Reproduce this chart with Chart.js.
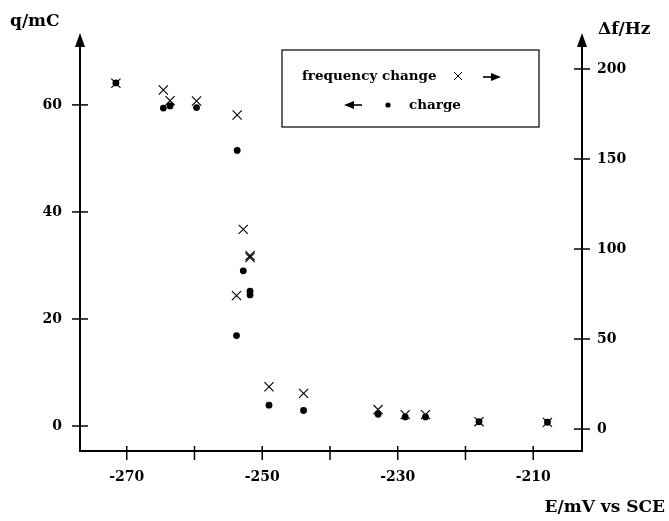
<!DOCTYPE html>
<html>
<head>
<meta charset="utf-8">
<script src="https://cdn.jsdelivr.net/npm/chart.js@4"></script>
<style>
  html, body { margin: 0; padding: 0; background: #fff; }
  canvas { display: block; }
</style>
</head>
<body>
<canvas id="chart" width="669" height="521"></canvas>
<script>
// potential E / mV vs SCE for each measurement
const potential = [-271.6, -264.6, -263.6, -259.7, -253.7, -252.8, -251.8, -251.8, -253.8, -249.0, -243.9, -232.9, -228.9, -225.9, -218.0, -207.9];
// charge q / mC (left axis)
const charge = [64.1, 59.4, 59.8, 59.5, 51.5, 29.0, 25.2, 24.5, 16.9, 3.9, 2.9, 2.2, 1.7, 1.7, 0.8, 0.7];
// frequency change Δf / Hz (right axis)
const freqChange = [192.1, 188.3, 182.4, 182.2, 174.4, 110.9, 96.3, 95.3, 74.1, 23.5, 19.8, 10.8, 8.0, 8.0, 4.1, 3.7];

const xTicks = [-270, -260, -250, -240, -230, -220, -210];
const qTicks = [0, 20, 40, 60];
const fTicks = [0, 50, 100, 150, 200];

const FONT = '"DejaVu Serif", "Liberation Serif", serif';

function line(ctx, x1, y1, x2, y2) {
    ctx.beginPath();
    ctx.moveTo(x1, y1);
    ctx.lineTo(x2, y2);
    ctx.stroke();
}

function arrowHead(ctx, x, y, dir) {
    // dir: 'up', 'right', 'left'
    ctx.beginPath();
    if (dir === 'up') {
        ctx.moveTo(x, y);
        ctx.lineTo(x - 5, y + 14);
        ctx.lineTo(x + 5, y + 14);
    } else if (dir === 'right') {
        ctx.moveTo(x, y);
        ctx.lineTo(x - 10, y - 4);
        ctx.lineTo(x - 10, y + 4);
    } else {
        ctx.moveTo(x, y);
        ctx.lineTo(x + 10, y - 4);
        ctx.lineTo(x + 10, y + 4);
    }
    ctx.closePath();
    ctx.fill();
}

const axisDecor = {
    id: 'axisDecor',
    afterDraw(chart) {
        const { ctx, chartArea, scales } = chart;
        const { left, right, bottom } = chartArea;
        ctx.save();
        ctx.strokeStyle = '#000';
        ctx.fillStyle = '#000';
        ctx.lineWidth = 1.5;

        // tick marks crossing the axes
        scales.x.ticks.forEach(t => {
            const px = scales.x.getPixelForValue(t.value);
            line(ctx, px, bottom - 5, px, bottom + 9);
        });
        scales.y.ticks.forEach(t => {
            const py = scales.y.getPixelForValue(t.value);
            line(ctx, left - 8, py, left + 8, py);
        });
        scales.y1.ticks.forEach(t => {
            const py = scales.y1.getPixelForValue(t.value);
            line(ctx, right - 8, py, right + 8, py);
        });

        // arrows on top of both vertical axes
        line(ctx, left, chartArea.top, left, 40);
        line(ctx, right, chartArea.top, right, 40);
        arrowHead(ctx, left, 33, 'up');
        arrowHead(ctx, right, 33, 'up');

        // axis titles
        ctx.font = 'bold 17px ' + FONT;
        ctx.textBaseline = 'middle';
        ctx.textAlign = 'left';
        ctx.fillText('q/mC', 10, 22);
        ctx.fillText('\u0394f/Hz', 598, 30);
        ctx.textAlign = 'right';
        ctx.fillText('E/mV vs SCE', 665, 508);

        // legend box
        ctx.lineWidth = 1.2;
        ctx.strokeRect(282, 50, 257, 77);
        ctx.font = 'bold 13.5px ' + FONT;
        ctx.textAlign = 'left';
        ctx.fillText('frequency change', 302, 76);
        ctx.fillText('charge', 409, 105);
        ctx.lineWidth = 1;
        line(ctx, 454, 72, 462, 80);
        line(ctx, 454, 80, 462, 72);
        ctx.lineWidth = 1.6;
        line(ctx, 483, 77, 492, 77);
        arrowHead(ctx, 501, 77, 'right');
        line(ctx, 353, 105, 362, 105);
        arrowHead(ctx, 344, 105, 'left');
        ctx.beginPath();
        ctx.arc(388, 105, 2.6, 0, Math.PI * 2);
        ctx.fill();

        ctx.restore();
    }
};

const tickFont = { family: FONT, size: 14, weight: 'bold' };

new Chart(document.getElementById('chart'), {
    type: 'scatter',
    data: {
        datasets: [
            {
                label: 'frequency change',
                data: potential.map((e, i) => ({ x: e, y: freqChange[i] })),
                yAxisID: 'y1',
                pointStyle: 'crossRot',
                pointRadius: 6.5,
                borderColor: '#000',
                backgroundColor: '#000',
                borderWidth: 1.1
            },
            {
                label: 'charge',
                data: potential.map((e, i) => ({ x: e, y: charge[i] })),
                yAxisID: 'y',
                pointStyle: 'circle',
                pointRadius: 3.4,
                borderWidth: 0,
                backgroundColor: '#000',
                borderColor: '#000'
            }
        ]
    },
    options: {
        responsive: false,
        animation: false,
        devicePixelRatio: 1,
        layout: { padding: { top: 38, left: 0, right: 0, bottom: 0 } },
        plugins: {
            legend: { display: false },
            tooltip: { enabled: false }
        },
        scales: {
            x: {
                type: 'linear',
                min: -276.9,
                max: -202.8,
                afterFit: s => { s.height = 70; },
                afterBuildTicks: s => { s.ticks = xTicks.map(v => ({ value: v })); },
                grid: { display: true, drawOnChartArea: false, drawTicks: false },
                border: { display: true, color: '#000', width: 2 },
                ticks: {
                    color: '#000',
                    font: tickFont,
                    padding: 18,
                    maxRotation: 0,
                    callback: v => (Math.abs(v % 20) === 10 ? String(v) : '')
                }
            },
            y: {
                position: 'left',
                min: -4.67,
                max: 72.5,
                afterFit: s => { s.width = 80; },
                afterBuildTicks: s => { s.ticks = qTicks.map(v => ({ value: v })); },
                grid: { display: true, drawOnChartArea: false, drawTicks: false },
                border: { display: true, color: '#000', width: 2 },
                ticks: { color: '#000', font: tickFont, padding: 18 }
            },
            y1: {
                position: 'right',
                min: -12.2,
                max: 217.2,
                afterFit: s => { s.width = 87; },
                afterBuildTicks: s => { s.ticks = fTicks.map(v => ({ value: v })); },
                grid: { display: true, drawOnChartArea: false, drawTicks: false },
                border: { display: true, color: '#000', width: 2 },
                ticks: { color: '#000', font: tickFont, padding: 15 }
            }
        }
    },
    plugins: [axisDecor]
});
</script>
</body>
</html>
